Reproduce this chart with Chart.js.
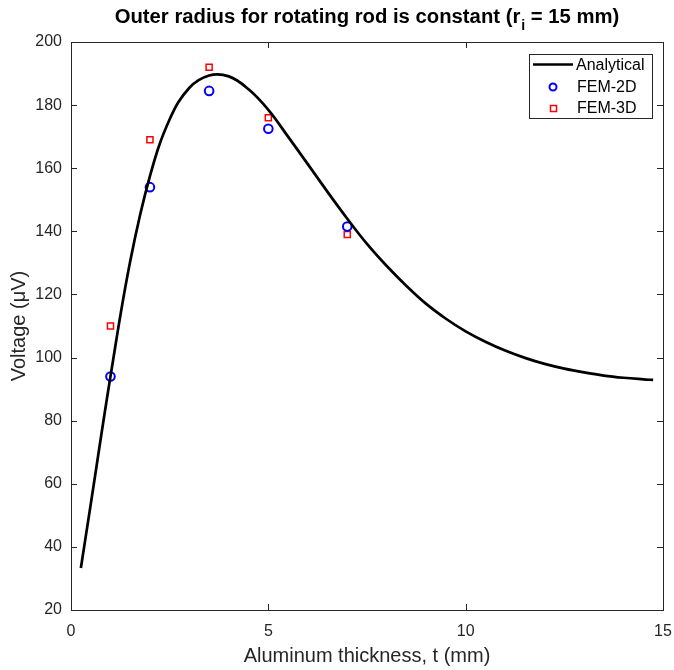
<!DOCTYPE html>
<html>
<head>
<meta charset="utf-8">
<script src="https://cdn.jsdelivr.net/npm/chart.js@4.4.1/dist/chart.umd.min.js"></script>
<style>
  html, body { margin: 0; padding: 0; background: #fff; }
  #wrap { width: 674px; height: 670px; }
</style>
</head>
<body>
<div id="wrap"><canvas id="myChart"></canvas></div>
<script>
// analytical curve
var tAnalytical = [0.25, 0.5, 1.0, 1.5, 2.0, 2.5, 3.0, 3.5, 4.0, 4.5, 5.0, 5.5, 6.0, 6.5, 7.0, 7.5, 8.0, 8.5, 9.0, 9.5, 10.0, 10.5, 11.0, 11.5, 12.0, 12.5, 13.0, 13.5, 14.0, 14.5, 14.75];
var vAnalytical = [33.3, 53.5, 94, 130.5, 157.5, 175.5, 185.5, 189.4, 189.1, 185, 178.5, 170, 161.3, 152.5, 144, 136, 129, 122.7, 117, 112.3, 108.3, 105, 102.2, 99.9, 98, 96.5, 95.3, 94.3, 93.6, 93.1, 92.9];

// FEM results
var tFem = [1, 2, 3.5, 5, 7];
var vFem2D = [94, 154, 184.5, 172.5, 141.5];
var vFem3D = [110, 169, 192, 176, 139];

var xTicks = [0, 5, 10, 15];
var yTicks = [20, 40, 60, 80, 100, 120, 140, 160, 180, 200];

function pairs(xs, ys) {
  return xs.map(function (x, i) { return { x: x, y: ys[i] }; });
}

var FONT = '"Liberation Sans", Arial, Helvetica, sans-serif';
var TXT = '#262626';

// box, inward ticks, title and legend the way MATLAB draws them
var matlabLook = {
  id: 'matlabLook',
  afterDraw: function (chart) {
    var ctx = chart.ctx;
    var a = chart.chartArea;
    var xs = chart.scales.x, ys = chart.scales.y;
    ctx.save();
    ctx.strokeStyle = TXT;
    ctx.lineWidth = 1;
    ctx.beginPath();
    xTicks.forEach(function (v) {
      var px = Math.round(xs.getPixelForValue(v)) + 0.5;
      ctx.moveTo(px, a.bottom); ctx.lineTo(px, a.bottom - 6);
      ctx.moveTo(px, a.top); ctx.lineTo(px, a.top + 6);
    });
    yTicks.forEach(function (v) {
      var py = Math.round(ys.getPixelForValue(v)) + 0.5;
      ctx.moveTo(a.left, py); ctx.lineTo(a.left + 6, py);
      ctx.moveTo(a.right, py); ctx.lineTo(a.right - 6, py);
    });
    ctx.stroke();
    ctx.strokeRect(Math.round(a.left) + 0.5, Math.round(a.top) + 0.5,
      Math.round(a.right - a.left), Math.round(a.bottom - a.top));

    // title with subscript
    ctx.fillStyle = '#000';
    ctx.textBaseline = 'alphabetic';
    var big = 'bold 20.3px ' + FONT, small = 'bold 14px ' + FONT;
    var p1 = 'Outer radius for rotating rod is constant (r', p2 = 'i', p3 = ' = 15 mm)';
    ctx.font = big; var w1 = ctx.measureText(p1).width, w3 = ctx.measureText(p3).width;
    ctx.font = small; var w2 = ctx.measureText(p2).width;
    var x0 = (a.left + a.right) / 2 - (w1 + w2 + w3 + 1) / 2;
    ctx.font = big; ctx.textAlign = 'left';
    ctx.fillText(p1, x0, 23);
    ctx.font = small; ctx.fillText(p2, x0 + w1 + 1, 30);
    ctx.font = big; ctx.fillText(p3, x0 + w1 + w2 + 1, 23);

    // legend
    var lx = 529.5, ly = 54.5, lw = 123, lh = 64;
    ctx.fillStyle = '#fff';
    ctx.fillRect(lx, ly, lw, lh);
    ctx.strokeStyle = TXT;
    ctx.strokeRect(lx, ly, lw, lh);
    ctx.font = '16px ' + FONT;
    ctx.fillStyle = '#000';
    ctx.textBaseline = 'middle';
    ctx.strokeStyle = '#000'; ctx.lineWidth = 2.5;
    ctx.beginPath(); ctx.moveTo(533, 64.5); ctx.lineTo(573, 64.5); ctx.stroke();
    ctx.fillText('Analytical', 576, 66);
    ctx.strokeStyle = '#0000ff'; ctx.lineWidth = 2;
    ctx.beginPath(); ctx.arc(553, 87, 3.5, 0, Math.PI * 2); ctx.stroke();
    ctx.fillText('FEM-2D', 577, 88);
    ctx.strokeStyle = '#ff0000'; ctx.lineWidth = 1.5;
    ctx.strokeRect(550.5, 105.5, 6, 6);
    ctx.fillText('FEM-3D', 577, 109);
    ctx.restore();
  }
};

const ctx = document.getElementById('myChart');
new Chart(ctx, {
  type: 'scatter',
  data: {
    datasets: [{
      label: 'Analytical',
      data: pairs(tAnalytical, vAnalytical),
      showLine: true,
      borderColor: '#000',
      borderWidth: 2.7,
      pointRadius: 0,
      tension: 0.4,
      fill: false
    }, {
      label: 'FEM-2D',
      data: pairs(tFem, vFem2D),
      pointStyle: 'circle',
      pointRadius: 4.3,
      pointBorderWidth: 2,
      borderColor: '#0000ff',
      backgroundColor: 'rgba(0,0,0,0)'
    }, {
      label: 'FEM-3D',
      data: pairs(tFem, vFem3D),
      pointStyle: 'rect',
      pointRadius: 4.3,
      pointBorderWidth: 1.5,
      borderColor: '#ff0000',
      backgroundColor: 'rgba(0,0,0,0)'
    }]
  },
  options: {
    responsive: true,
    maintainAspectRatio: false,
    animation: false,
    layout: { padding: { left: 0, right: 11, top: 42, bottom: 0 } },
    plugins: {
      legend: { display: false },
      title: { display: false },
      tooltip: { enabled: false }
    },
    scales: {
      x: {
        type: 'linear',
        min: 0, max: 15,
        afterFit: function (s) { s.height = 60; s.paddingLeft = 0; s.paddingRight = 0; },
        afterBuildTicks: function (s) { s.ticks = xTicks.map(function (v) { return { value: v }; }); },
        grid: { display: false, drawTicks: false },
        border: { display: false },
        ticks: { color: TXT, font: { family: FONT, size: 16 }, padding: 12, maxRotation: 0 },
        title: {
          display: true,
          text: 'Aluminum thickness, t (mm)',
          color: TXT,
          font: { family: FONT, size: 20 },
          padding: { top: 0, bottom: 2 }
        }
      },
      y: {
        type: 'linear',
        min: 20, max: 200,
        afterFit: function (s) { s.width = 71; s.paddingTop = 0; s.paddingBottom = 0; },
        afterBuildTicks: function (s) { s.ticks = yTicks.map(function (v) { return { value: v }; }); },
        grid: { display: false, drawTicks: false },
        border: { display: false },
        ticks: { color: TXT, font: { family: FONT, size: 16 }, padding: 9 },
        title: {
          display: true,
          text: 'Voltage (μV)',
          color: TXT,
          font: { family: FONT, size: 20 },
          padding: { top: 7, bottom: 0 }
        }
      }
    }
  },
  plugins: [matlabLook]
});
</script>
</body>
</html>
